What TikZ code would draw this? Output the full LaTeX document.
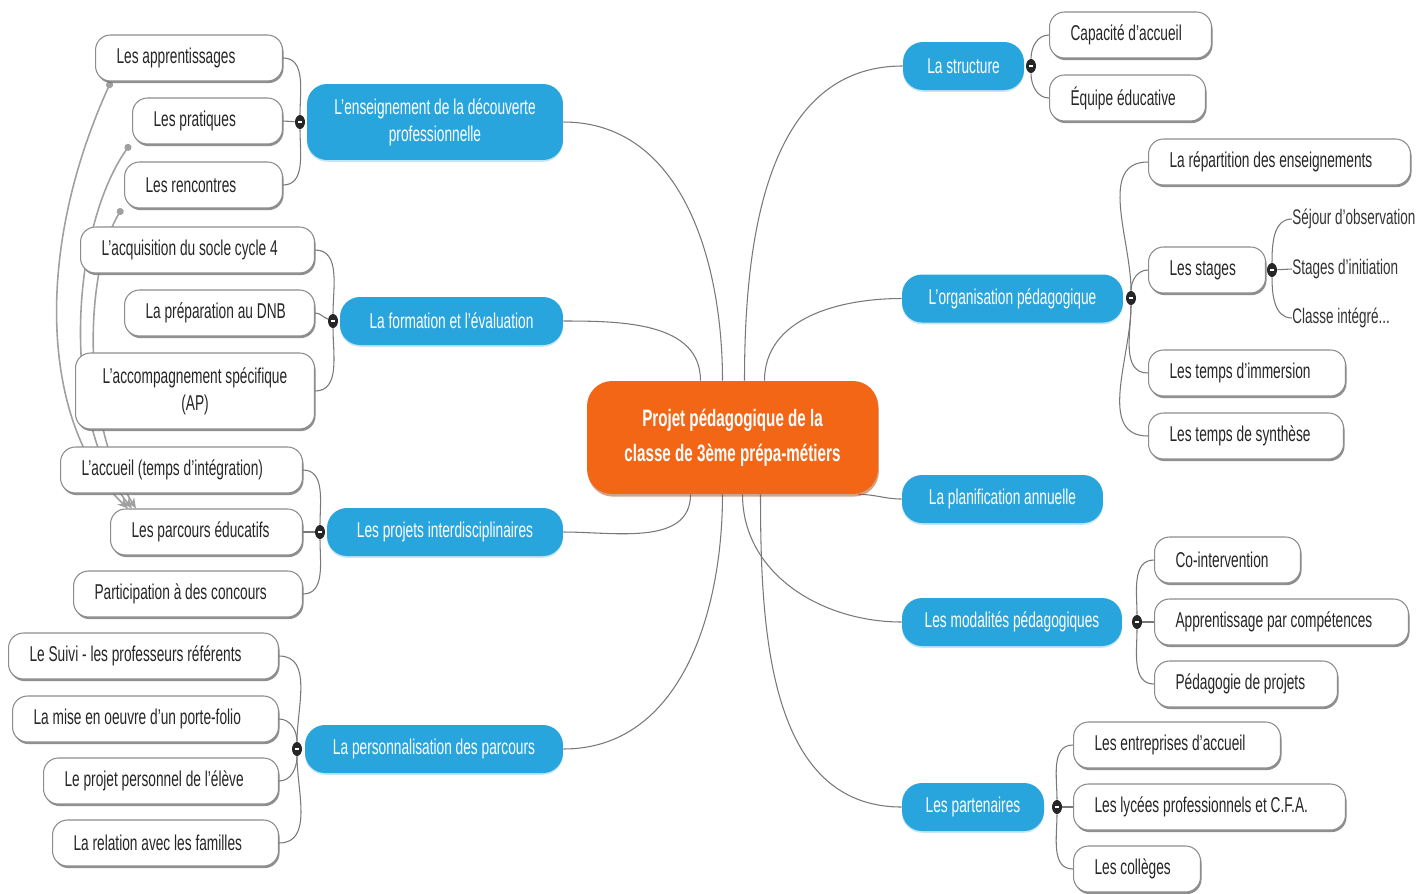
\documentclass[tikz,border=0pt]{standalone}
\usepackage{fontspec}
\setmainfont{Liberation Sans}[FakeStretch=0.64]
\usetikzlibrary{shapes.geometric,shadows,arrows.meta,calc,backgrounds}
\definecolor{mapblue}{RGB}{41,165,222}
\definecolor{maporange}{RGB}{243,102,22}
\definecolor{linkgray}{RGB}{120,120,120}
\definecolor{relgray}{RGB}{160,160,160}
\begin{document}
\begin{tikzpicture}[x=0.02cm,y=-0.02cm,
  leaf/.style={draw=black!45,fill=white,rounded corners=0.3cm,line width=0.6pt,anchor=west,align=flush left,
    inner xsep=0.42cm,inner ysep=0pt,minimum height=0.92cm,text=black!85,font=\fontsize{12.2}{15.3}\selectfont,
    drop shadow={shadow xshift=0.6pt,shadow yshift=-1.2pt,fill=black!55,opacity=0.8}},
  subleaf/.style={anchor=west,inner sep=0pt,text=black!80,font=\fontsize{12}{15.3}\selectfont},
  topic/.style={fill=mapblue,rounded corners=0.4cm,text=white,align=flush center,inner sep=0pt,minimum height=0.96cm,
    font=\fontsize{12.2}{15.3}\selectfont,drop shadow={shadow xshift=0pt,shadow yshift=-1pt,fill=mapblue!35,opacity=0.8}},
  toggle/.style={ellipse,fill=black!85,inner sep=0pt,minimum width=0.2cm,minimum height=0.28cm,
    path picture={\draw[white,line width=0.7pt] ($(path picture bounding box.center)+(-2,0)$)--($(path picture bounding box.center)+(2,0)$);}},
  link/.style={draw=linkgray,line width=0.6pt},
  rel/.style={draw=relgray,line width=0.9pt,{Circle[length=4pt]}-{Stealth[length=6pt,width=5pt]}}]
\useasboundingbox (0,0) rectangle (1426,893);

\node[fill=maporange,rounded corners=0.5cm,text=white,align=flush center,minimum width=5.82cm,minimum height=2.26cm,
  font=\fontsize{13.5}{20}\selectfont\bfseries,drop shadow={shadow xshift=0.5pt,shadow yshift=-1.5pt,fill=maporange!70!black}]
  (ctr) at (732.5,437.5) {Projet pédagogique de la\\classe de 3ème prépa-métiers};

\node[topic,minimum width=5.12cm,minimum height=1.52cm](b1) at (435,122){L'enseignement de la découverte\\professionnelle};
\node[topic,minimum width=4.46cm](b2) at (451.5,321){La formation et l'évaluation};
\node[topic,minimum width=4.72cm](b3) at (445,532){Les projets interdisciplinaires};
\node[topic,minimum width=5.16cm](b4) at (434,749){La personnalisation des parcours};
\node[topic,minimum width=2.42cm](r1) at (963.5,66){La structure};
\node[topic,minimum width=4.42cm](r2) at (1012.5,298.5){L'organisation pédagogique};
\node[topic,minimum width=4.02cm](r3) at (1002.5,499){La planification annuelle};
\node[topic,minimum width=4.40cm](r4) at (1012,622){Les modalités pédagogiques};
\node[topic,minimum width=2.84cm](r5) at (973,807){Les partenaires};

\node[leaf,text width=2.90cm](appr) at (95,58){Les apprentissages};
\node[leaf,text width=2.16cm](prat) at (132,121){Les pratiques};
\node[leaf,text width=2.32cm](renc) at (124,185){Les rencontres};
\node[leaf,text width=3.84cm](socle) at (80,250){L'acquisition du socle cycle 4};
\node[leaf,text width=2.96cm](dnb) at (124,313){La préparation au DNB};
\node[leaf,text width=3.94cm,align=flush center,minimum height=1.52cm](ap) at (75,391){L'accompagnement spécifique\\(AP)};
\node[leaf,text width=4.00cm](accu) at (60,470){L'accueil (temps d'intégration)};
\node[leaf,text width=3.00cm](parc) at (110,532){Les parcours éducatifs};
\node[leaf,text width=3.74cm](conc) at (73,594){Participation à des concours};
\node[leaf,text width=4.56cm](suivi) at (8,656){Le Suivi - les professeurs référents};
\node[leaf,text width=4.48cm](folio) at (12,719){La mise en oeuvre d'un porte-folio};
\node[leaf,text width=3.86cm](eleve) at (43,781){Le projet personnel de l'élève};
\node[leaf,text width=3.68cm](fam) at (52,843){La relation avec les familles};

\node[leaf,text width=2.40cm](cap) at (1049,35){Capacité d'accueil};
\node[leaf,text width=2.28cm](equ) at (1049,98){Équipe éducative};
\node[leaf,text width=4.40cm](rep) at (1148,162){La répartition des enseignements};
\node[leaf,text width=1.50cm](stag) at (1148,270){Les stages};
\node[leaf,text width=3.10cm](imm) at (1148,373){Les temps d'immersion};
\node[leaf,text width=3.06cm](synt) at (1148,436){Les temps de synthèse};
\node[leaf,text width=2.08cm](coint) at (1154,560){Co-intervention};
\node[leaf,text width=4.24cm](compet) at (1154,622){Apprentissage par compétences};
\node[leaf,text width=2.82cm](pedag) at (1154,684){Pédagogie de projets};
\node[leaf,text width=3.30cm](entr) at (1073,745){Les entreprises d'accueil};
\node[leaf,text width=4.60cm](lyc) at (1073,807){Les lycées professionnels et C.F.A.};
\node[leaf,text width=1.70cm](coll) at (1073,869){Les collèges};

\node[subleaf](sejour) at (1292,219){Séjour d'observation};
\node[subleaf](init) at (1292,269){Stages d'initiation};
\node[subleaf](integ) at (1292,318){Classe intégré...};

\node[toggle](t1) at (300,122){};
\node[toggle](t2) at (333,321){};
\node[toggle](t3) at (320,532){};
\node[toggle](t4) at (297,749){};
\node[toggle](s1) at (1031,66){};
\node[toggle](s2) at (1131,298){};
\node[toggle](s4) at (1137,622){};
\node[toggle](s5) at (1057,807){};
\node[toggle](st) at (1272,270){};

\begin{pgfonlayer}{background}
\fill[white] (0,0) rectangle (1426,893);
\draw[link] ($(ctr.north)+(-10,0)$) to[out=90,in=0] (b1.east);
\draw[link] ($(ctr.north)+(-32,0)$) to[out=90,in=0] (b2.east);
\draw[link] ($(ctr.south)+(-42,0)$) to[out=-90,in=0] (b3.east);
\draw[link] ($(ctr.south)+(-10,0)$) to[out=-90,in=0] (b4.east);
\draw[link] ($(ctr.north)+(12,0)$) to[out=90,in=180] (r1.west);
\draw[link] ($(ctr.north)+(32,0)$) to[out=90,in=180] (r2.west);
\draw[link] ($(ctr.south east)+(-20,0)$) to[out=0,in=180] (r3.west);
\draw[link] ($(ctr.south)+(10,0)$) to[out=-90,in=180] (r4.west);
\draw[link] ($(ctr.south)+(28,0)$) to[out=-90,in=180] (r5.west);

\draw[link] (t1) to[out=90,in=0] (appr.east);
\draw[link] (t1) -- (prat.east);
\draw[link] (t1) to[out=-90,in=0] (renc.east);
\draw[link] (t2) to[out=90,in=0] (socle.east);
\draw[link] (t2) to[out=160,in=0] (dnb.east);
\draw[link] (t2) to[out=-90,in=0] (ap.east);
\draw[link] (t3) to[out=90,in=0] (accu.east);
\draw[link] (t3) -- (parc.east);
\draw[link] (t3) to[out=-90,in=0] (conc.east);
\draw[link] (t4) to[out=90,in=0] (suivi.east);
\draw[link] (t4) to[out=90,in=0] (folio.east);
\draw[link] (t4) to[out=-90,in=0] (eleve.east);
\draw[link] (t4) to[out=-90,in=0] (fam.east);

\draw[link] (s1) to[out=90,in=180] (cap.west);
\draw[link] (s1) to[out=-90,in=180] (equ.west);
\draw[link] (s2) to[out=90,in=180] (rep.west);
\draw[link] (s2) to[out=90,in=180] (stag.west);
\draw[link] (s2) to[out=-90,in=180] (imm.west);
\draw[link] (s2) to[out=-90,in=180] (synt.west);
\draw[link] (s4) to[out=90,in=180] (coint.west);
\draw[link] (s4) -- (compet.west);
\draw[link] (s4) to[out=-90,in=180] (pedag.west);
\draw[link] (s5) to[out=90,in=180] (entr.west);
\draw[link] (s5) -- (lyc.west);
\draw[link] (s5) to[out=-90,in=180] (coll.west);
\draw[link] (st) to[out=90,in=180] (sejour.west);
\draw[link] (st) -- (init.west);
\draw[link] (st) to[out=-90,in=180] (integ.west);

\draw[rel] ($(appr.south west)+(16,0)$) .. controls (30,260) and (45,430) .. ($(parc.north west)+(18,0)$);
\draw[rel] ($(prat.south west)+(-2,0)$) .. controls (70,230) and (60,420) .. ($(parc.north west)+(22,0)$);
\draw[rel] ($(renc.south west)+(-2,0)$) .. controls (85,270) and (80,420) .. ($(parc.north west)+(26,0)$);
\end{pgfonlayer}
\end{tikzpicture}
\end{document}
